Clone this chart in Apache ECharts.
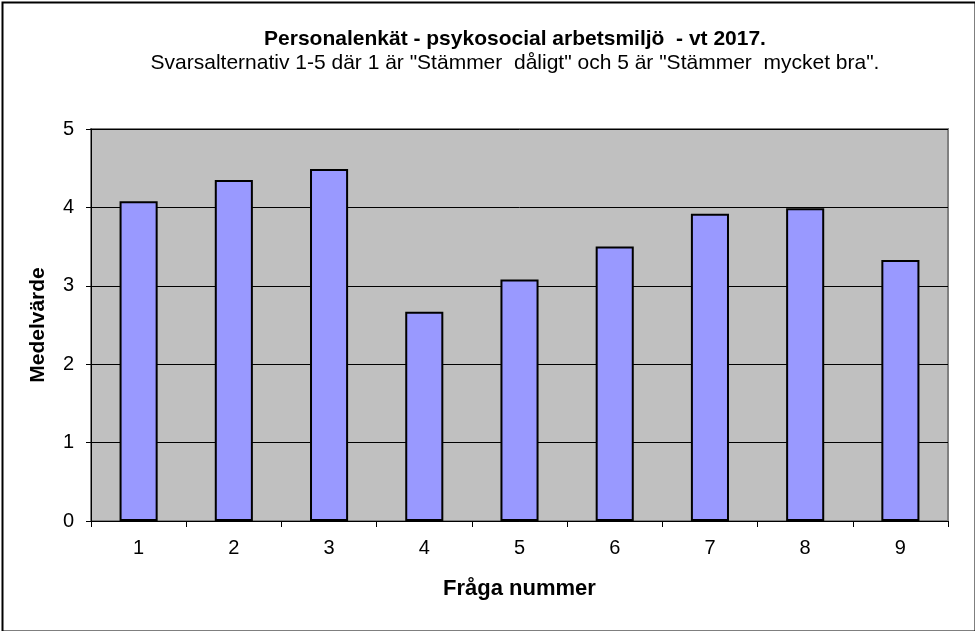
<!DOCTYPE html>
<html>
<head>
<meta charset="utf-8">
<script src="https://cdn.jsdelivr.net/npm/echarts@6/dist/echarts.min.js"></script>
<style>
html,body{margin:0;padding:0;background:#fff;}
#chart{width:975px;height:631px;}
</style>
</head>
<body>
<div id="chart"></div>
<script>
const categories = ['1','2','3','4','5','6','7','8','9'];
const values = [4.08, 4.35, 4.49, 2.67, 3.08, 3.50, 3.92, 3.99, 3.33];
const titleText = 'Personalenkät - psykosocial arbetsmiljö  - vt 2017.';
const subtitleText = 'Svarsalternativ 1-5 där 1 är "Stämmer  dåligt" och 5 är "Stämmer  mycket bra".';
const yName = 'Medelvärde';
const xName = 'Fråga nummer';

const chart = echarts.init(document.getElementById('chart'));
const font = 'Liberation Sans, Arial, sans-serif';
chart.setOption({
  backgroundColor: '#ffffff',
  animation: false,
  title: [
    {text: titleText, left: 510, top: 24, textAlign: 'center',
     textStyle: {fontFamily: font, fontSize: 21, fontWeight: 'bold', color: '#000'}},
    {text: subtitleText, left: 510, top: 48, textAlign: 'center',
     textStyle: {fontFamily: font, fontSize: 21, fontWeight: 'normal', color: '#000'}}
  ],
  graphic: [{
    type: 'rect', left: 0, top: 0, z: 100,
    shape: {x: 1, y: 1, width: 973, height: 629},
    style: {fill: 'none', stroke: '#000', lineWidth: 2}
  }],
  grid: {
    left: 91, right: 27, top: 129, bottom: 110,
    show: true, backgroundColor: '#c0c0c0', borderColor: '#808080', borderWidth: 2,
    containLabel: false
  },
  xAxis: {
    type: 'category', data: categories,
    name: xName, nameLocation: 'middle', nameGap: 57,
    nameTextStyle: {fontFamily: font, fontSize: 22, fontWeight: 'bold', color: '#000'},
    axisLine: {show: true, lineStyle: {color: '#000', width: 1}},
    axisTick: {show: true, length: 6, lineStyle: {color: '#000'}, alignWithLabel: false},
    axisLabel: {fontFamily: font, fontSize: 20, color: '#000', margin: 17},
    splitLine: {show: false}
  },
  yAxis: {
    type: 'value', min: 0, max: 5, interval: 1,
    name: yName, nameLocation: 'middle', nameGap: 42,
    nameTextStyle: {fontFamily: font, fontSize: 21, fontWeight: 'bold', color: '#000'},
    axisLine: {show: true, lineStyle: {color: '#000', width: 1}},
    axisTick: {show: true, length: 5, lineStyle: {color: '#000'}},
    axisLabel: {fontFamily: font, fontSize: 20, color: '#000', margin: 17},
    splitLine: {show: true, lineStyle: {color: '#000', width: 1}}
  },
  series: [{
    type: 'bar', data: values, barWidth: '40%',
    itemStyle: {color: '#9999ff', borderColor: '#000', borderWidth: 2}
  }]
});
</script>
</body>
</html>
